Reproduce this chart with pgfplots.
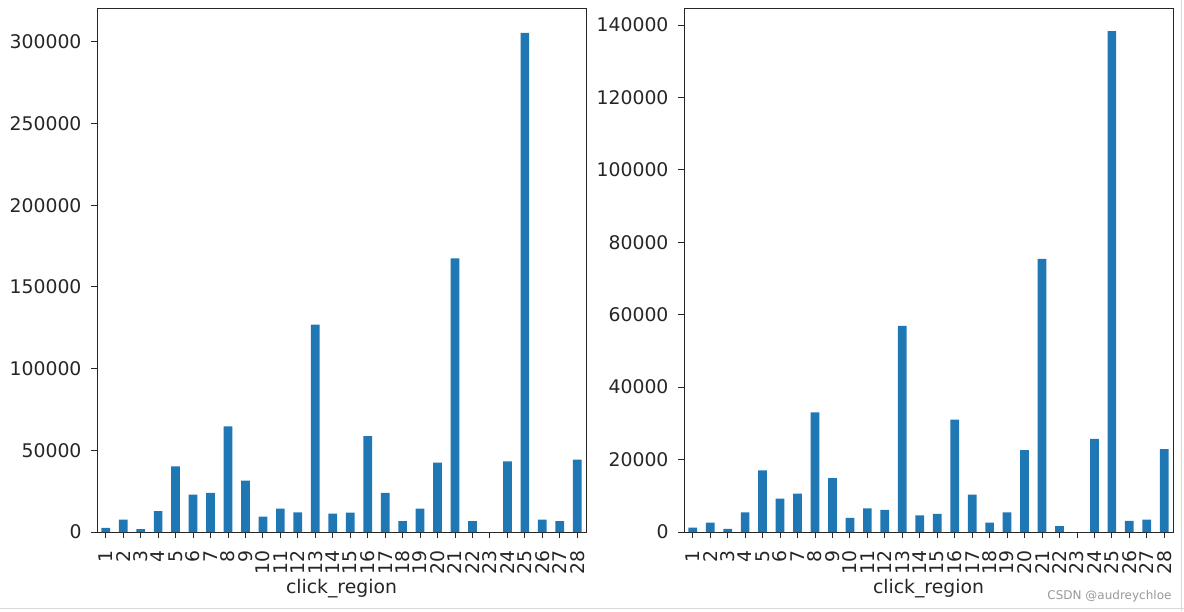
\documentclass[border=0pt]{standalone}
\usepackage{fontspec}
\setmainfont{DejaVu Sans}
\usepackage{pgfplots}
\pgfplotsset{compat=1.18}

\definecolor{barblue}{HTML}{1F77B4}
\definecolor{txt}{HTML}{262626}

% region, count (left) and second measure (right)
\pgfplotstableread{
region left right
1 2500 1200
2 7600 2600
3 1800 830
4 12800 5400
5 40200 17000
6 22900 9200
7 23900 10600
8 64700 33000
9 31500 14900
10 9400 3900
11 14300 6500
12 12000 6100
13 126900 56900
14 11200 4600
15 11900 5000
16 58700 31000
17 23900 10300
18 6700 2600
19 14300 5400
20 42500 22600
21 167500 75400
22 6700 1600
23 0 0
24 43300 25700
25 305500 138300
26 7600 3100
27 6700 3400
28 44300 22900
}\clicks

\pgfplotsset{clickaxis/.style={
  width=489pt, height=524pt, scale only axis,
  anchor=south west,
  ybar, bar width=0.5,
  xmin=0.5, xmax=28.5, ymin=0,
  xtick={1,...,28},
  tick align=outside, major tick length=6pt,
  xtick pos=left, ytick pos=left,
  tick style={txt, line width=0.9pt},
  axis line style={txt, line width=0.9pt},
  xticklabel shift={9pt}, yticklabel shift={6pt},
  x tick label style={rotate=90, anchor=east, font=\fontsize{18.8}{18.8}\selectfont, text=txt},
  y tick label style={font=\fontsize{18.8}{18.8}\selectfont, text=txt},
  scaled y ticks=false,
  /pgf/number format/fixed,
  /pgf/number format/1000 sep={},
  /pgf/number format/assume math mode=true,
  xlabel={click\_region},
  xlabel style={font=\fontsize{18.8}{18.8}\selectfont, text=txt, yshift=2pt},
}}

\begin{document}
\begin{tikzpicture}
\path[use as bounding box] (0,0) rectangle (1184pt,611pt);

\begin{axis}[clickaxis, at={(97pt,79pt)}, ymax=320700, ytick={0,50000,...,300000}]
\addplot[fill=barblue, draw=none] table[x=region, y=left] {\clicks};
\end{axis}

\begin{axis}[clickaxis, at={(684pt,79pt)}, ymax=144700, ytick={0,20000,...,140000}]
\addplot[fill=barblue, draw=none] table[x=region, y=right] {\clicks};
\end{axis}

\draw[gray!30, line width=1pt] (0,3pt) -- (1184pt,3pt);
\draw[gray!30, line width=1pt] (1181pt,0) -- (1181pt,611pt);
\node[anchor=east, text=gray!80, font=\fontsize{12}{12}\selectfont] at (1175pt,15pt) {CSDN @audreychloe};
\end{tikzpicture}
\end{document}
